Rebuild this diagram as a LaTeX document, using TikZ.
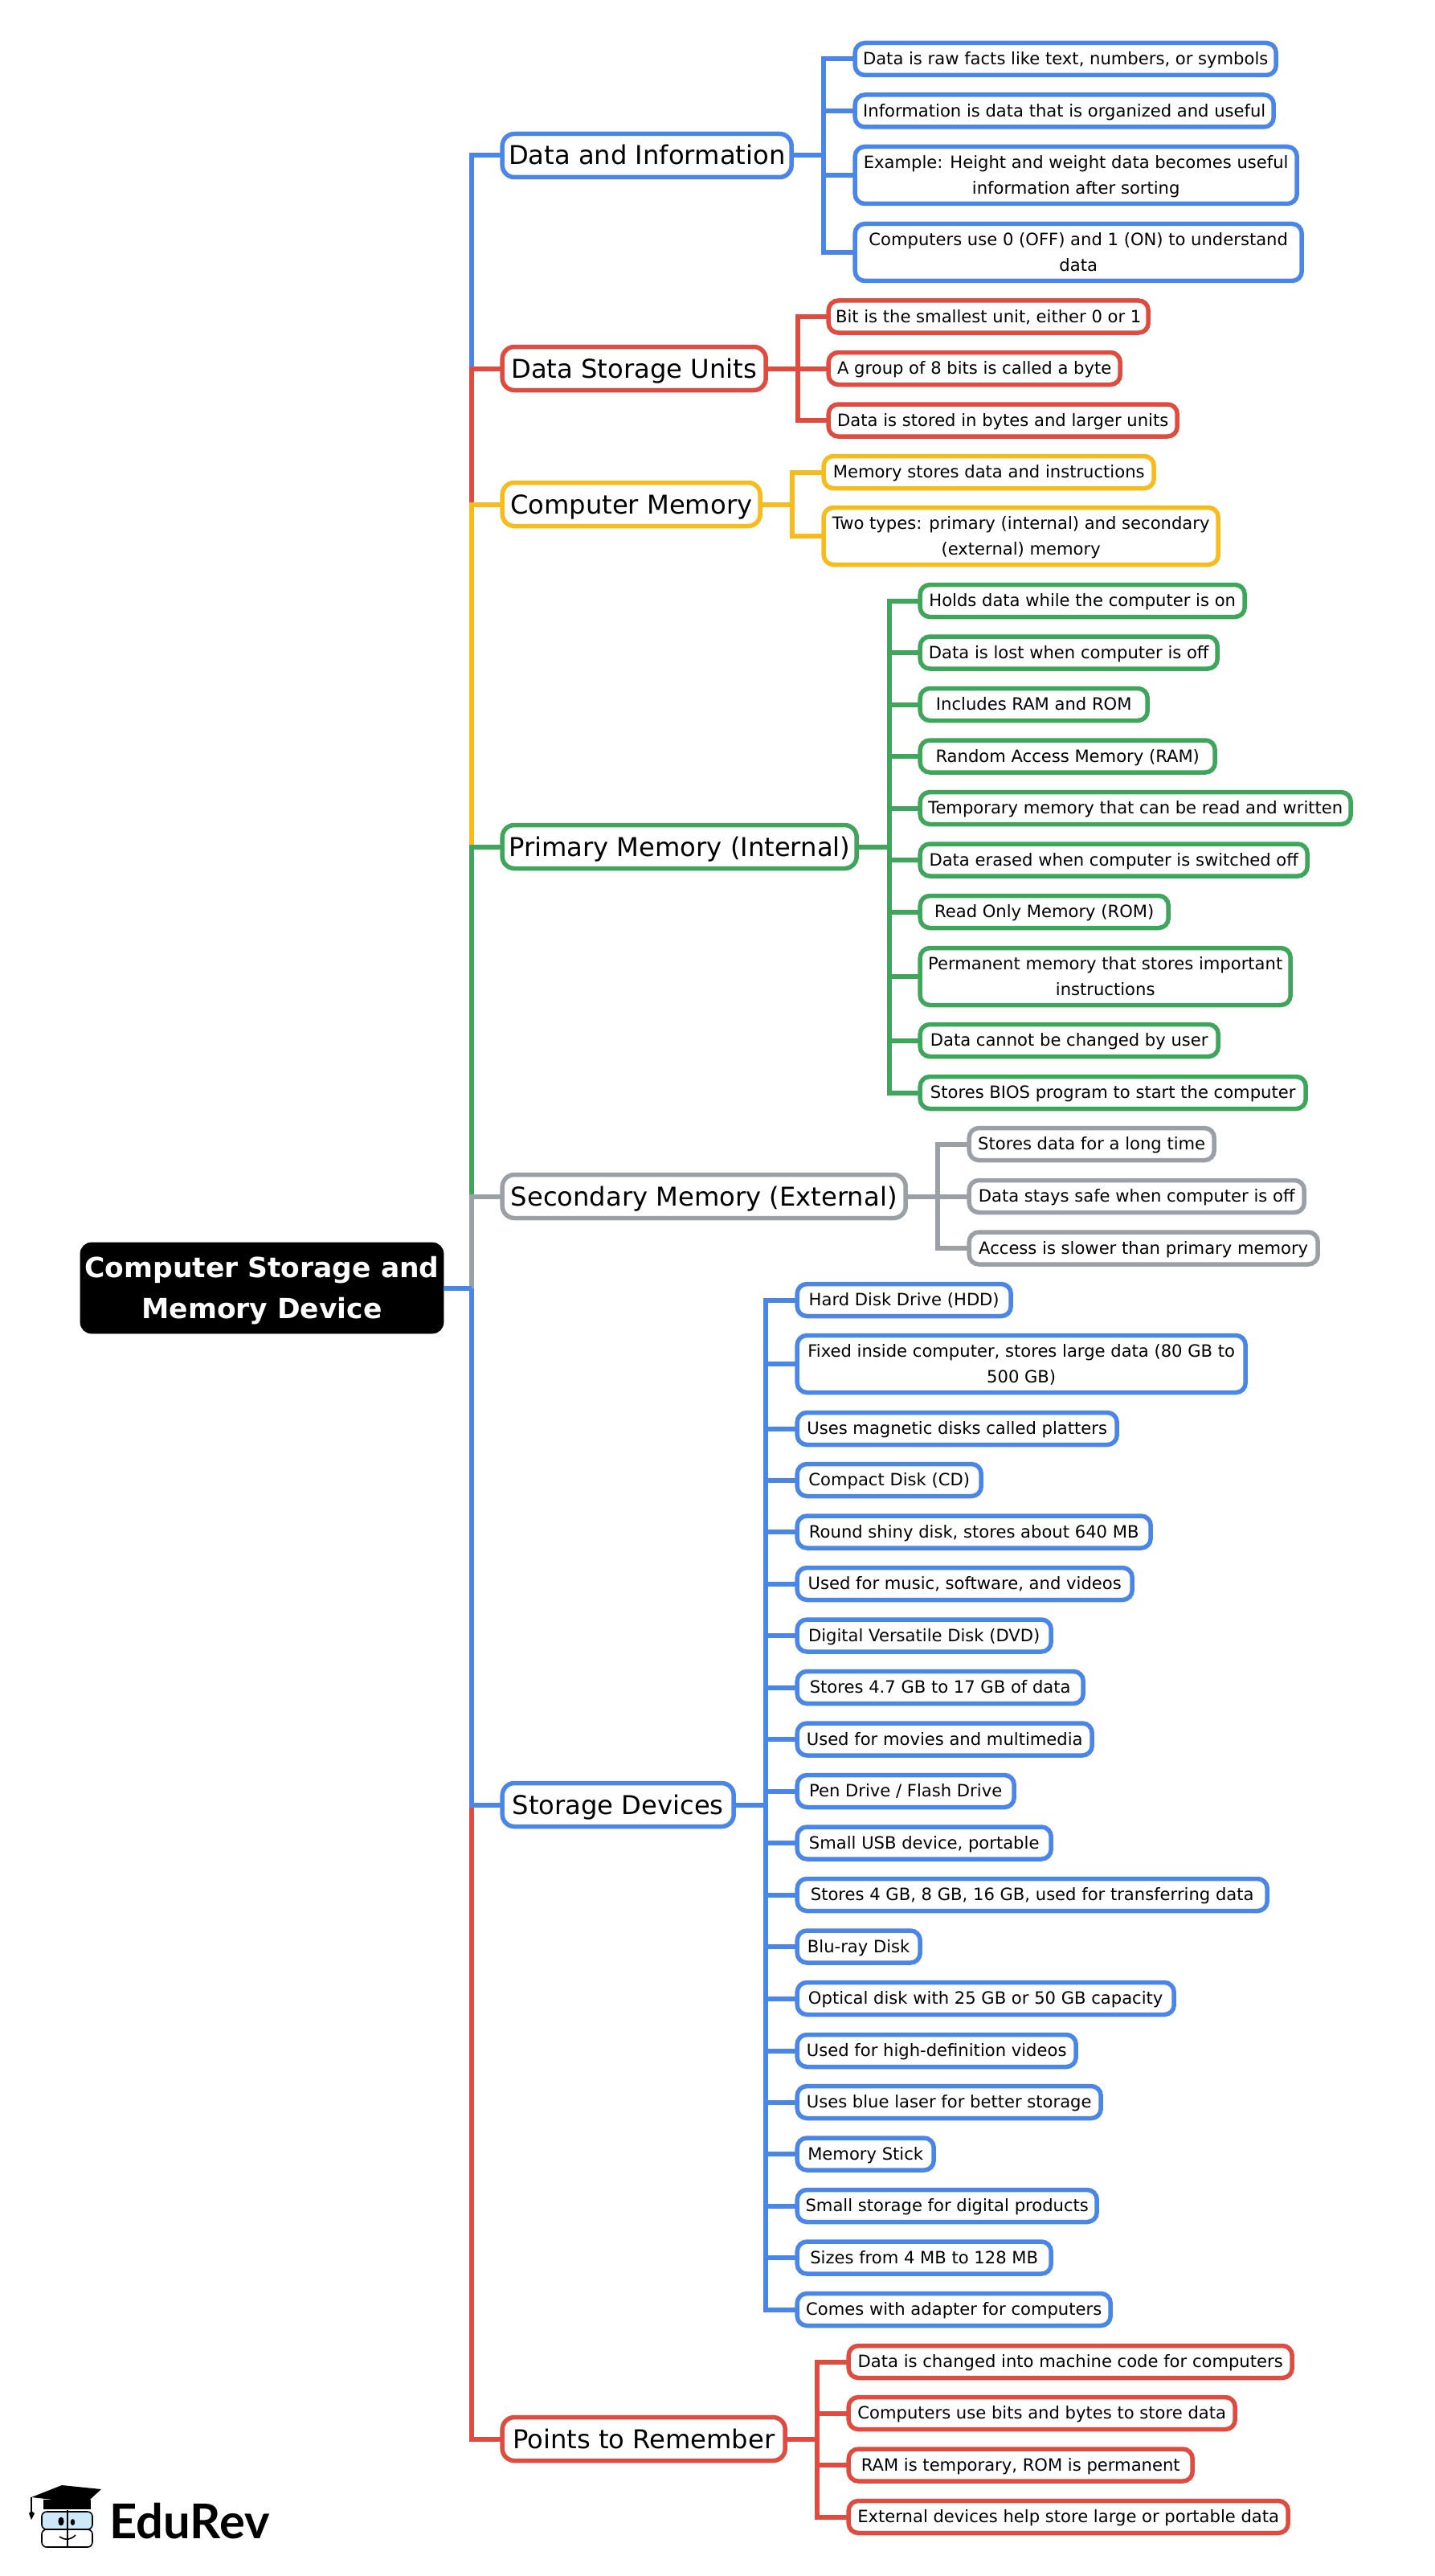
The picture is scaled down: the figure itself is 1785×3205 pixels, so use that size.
\documentclass[tikz,border=0pt]{standalone}
\usepackage{fontspec}
\setmainfont{DejaVu Sans}
\newfontfamily\logofont{Lato}
\usepackage{tikz}
\usetikzlibrary{positioning}
\definecolor{cblue}{HTML}{4A86E8}
\definecolor{cred}{HTML}{E04B3F}
\definecolor{cyellow}{HTML}{F7BC1C}
\definecolor{cgreen}{HTML}{3DA65B}
\definecolor{cgrey}{HTML}{9AA0A6}
\definecolor{cface}{HTML}{CDE8F8}
\newcommand\leafstrut{\rule[-4pt]{0pt}{15.2pt}}
\newcommand\tallstrut{\rule[-4pt]{0pt}{31.5pt}}
\newcommand\branchstrut{\rule[-4.5pt]{0pt}{20.5pt}}
\newcommand\rootstrut{\rule[-4.8pt]{0pt}{47.1pt}}
\tikzset{
  leaf/.style={draw,fill=white,line width=2.75pt,rounded corners=6pt,anchor=west,xshift=.6pt,
    outer sep=0pt,inner sep=0pt,align=center,text=black,
    execute at begin node=\leafstrut,execute at end node=\leafstrut,
    font=\fontsize{10.55}{16}\selectfont,minimum width=(#1-4)*.5pt,minimum height=20pt},
  bleaf/.style={leaf=#1,draw=cblue},
  rleaf/.style={leaf=#1,draw=cred},
  yleaf/.style={leaf=#1,draw=cyellow},
  gleaf/.style={leaf=#1,draw=cgreen},
  sleaf/.style={leaf=#1,draw=cgrey},
  twoline/.style={minimum height=35.5pt,execute at begin node=\tallstrut},
  branch/.style={leaf=#1,rounded corners=7.5pt,font=\fontsize{16.1}{20}\selectfont,minimum height=27pt,
    execute at begin node=\branchstrut,execute at end node=\branchstrut},
  link/.style={line width=3pt},
  elbow/.style={to path={|- (\tikztotarget)}}
}
\begin{document}
\begin{tikzpicture}[x=.5pt,y=-.5pt]
  \useasboundingbox (0,0) rectangle (1785,3205);
  \node[draw=black,fill=black,text=white,rounded corners=7pt,outer sep=0pt,inner sep=0pt,align=center,
    execute at begin node=\rootstrut,execute at end node=\leafstrut,
    font=\fontsize{17.25}{25.5}\selectfont\bfseries,minimum width=226pt,minimum height=56.5pt] (root) at (326,1602.5)
    {Computer Storage and\\Memory Device};
  \coordinate (trunk) at (587,1602.5);

  % data and information
  \node[branch=364,draw=cblue] (di) at (624,193.5) {Data and Information};
  \coordinate (dibar) at (1025,193.5);
  \node[bleaf=528] (di1) at (1063,73.5) {Data is raw facts like text, numbers, or symbols};
  \node[bleaf=525] (di2) at (1063,138) {Information is data that is organized and useful};
  \node[bleaf=554,twoline] (di3) at (1063,218) {Example: Height and weight data becomes useful\\information after sorting};
  \node[bleaf=560,twoline] (di4) at (1063,314) {Computers use 0 (OFF) and 1 (ON) to understand\\data};

  % storage units
  \node[branch=332,draw=cred] (du) at (624,458.5) {Data Storage Units};
  \coordinate (dubar) at (993,458.5);
  \node[rleaf=402] (du1) at (1030,394) {Bit is the smallest unit, either 0 or 1};
  \node[rleaf=367] (du2) at (1030,458.5) {A group of 8 bits is called a byte};
  \node[rleaf=438] (du3) at (1030,523) {Data is stored in bytes and larger units};

  % computer memory
  \node[branch=325,draw=cyellow] (cm) at (624,627.5) {Computer Memory};
  \coordinate (cmbar) at (986,627.5);
  \node[yleaf=415] (cm1) at (1024,587.5) {Memory stores data and instructions};
  \node[yleaf=495,twoline] (cm2) at (1024,667) {Two types: primary (internal) and secondary\\(external) memory};

  % primary memory
  \node[branch=445,draw=cgreen] (pm) at (624,1053.5) {Primary Memory (Internal)};
  \coordinate (pmbar) at (1107,1053.5);
  \node[gleaf=408] (pm1) at (1144,747.5) {Holds data while the computer is on};
  \node[gleaf=374] (pm2) at (1144,812) {Data is lost when computer is off};
  \node[gleaf=287] (pm3) at (1144,876.5) {Includes RAM and ROM};
  \node[gleaf=371] (pm4) at (1144,941) {Random Access Memory (RAM)};
  \node[gleaf=540] (pm5) at (1144,1005.5) {Temporary memory that can be read and written};
  \node[gleaf=486] (pm6) at (1144,1070) {Data erased when computer is switched off};
  \node[gleaf=313] (pm7) at (1144,1134.5) {Read Only Memory (ROM)};
  \node[gleaf=465,twoline] (pm8) at (1144,1215) {Permanent memory that stores important\\instructions};
  \node[gleaf=375] (pm9) at (1144,1294.5) {Data cannot be changed by user};
  \node[gleaf=484] (pm10) at (1144,1359.5) {Stores BIOS program to start the computer};

  % secondary memory
  \node[branch=506,draw=cgrey] (sm) at (624,1488.5) {Secondary Memory (External)};
  \coordinate (smbar) at (1167,1488.5);
  \node[sleaf=309] (sm1) at (1205,1423.5) {Stores data for a long time};
  \node[sleaf=421] (sm2) at (1205,1488.5) {Data stays safe when computer is off};
  \node[sleaf=438] (sm3) at (1205,1553) {Access is slower than primary memory};

  % storage devices
  \node[branch=292,draw=cblue] (sd) at (624,2245.5) {Storage Devices};
  \coordinate (sdbar) at (953,2245.5);
  \node[bleaf=270] (sd1) at (991,1617.5) {Hard Disk Drive (HDD)};
  \node[bleaf=562,twoline] (sd2) at (991,1697) {Fixed inside computer, stores large data (80 GB to\\500 GB)};
  \node[bleaf=402] (sd3) at (991,1777.5) {Uses magnetic disks called platters};
  \node[bleaf=233] (sd4) at (991,1841.5) {Compact Disk (CD)};
  \node[bleaf=444] (sd5) at (991,1906) {Round shiny disk, stores about 640 MB};
  \node[bleaf=421] (sd6) at (991,1970.5) {Used for music, software, and videos};
  \node[bleaf=320] (sd7) at (991,2035) {Digital Versatile Disk (DVD)};
  \node[bleaf=360] (sd8) at (991,2099.5) {Stores 4.7 GB to 17 GB of data};
  \node[bleaf=371] (sd9) at (991,2164) {Used for movies and multimedia};
  \node[bleaf=274] (sd10) at (991,2228.5) {Pen Drive / Flash Drive};
  \node[bleaf=320] (sd11) at (991,2293) {Small USB device, portable};
  \node[bleaf=589] (sd12) at (991,2357.5) {Stores 4 GB, 8 GB, 16 GB, used for transferring data};
  \node[bleaf=157] (sd13) at (991,2422) {Blu-ray Disk};
  \node[bleaf=473] (sd14) at (991,2486.5) {Optical disk with 25 GB or 50 GB capacity};
  \node[bleaf=351] (sd15) at (991,2551.5) {Used for high-definition videos};
  \node[bleaf=382] (sd16) at (991,2615.5) {Uses blue laser for better storage};
  \node[bleaf=174] (sd17) at (991,2680) {Memory Stick};
  \node[bleaf=377] (sd18) at (991,2744.5) {Small storage for digital products};
  \node[bleaf=320] (sd19) at (991,2809) {Sizes from 4 MB to 128 MB};
  \node[bleaf=394] (sd20) at (991,2873.5) {Comes with adapter for computers};

  % points to remember
  \node[branch=356,draw=cred] (pr) at (624,3034.5) {Points to Remember};
  \coordinate (prbar) at (1017,3034.5);
  \node[rleaf=556] (pr1) at (1055,2938.5) {Data is changed into machine code for computers};
  \node[rleaf=485] (pr2) at (1055,3002.5) {Computers use bits and bytes to store data};
  \node[rleaf=432] (pr3) at (1055,3067) {RAM is temporary, ROM is permanent};
  \node[rleaf=551] (pr4) at (1055,3131.5) {External devices help store large or portable data};

  % trunk, later paths lie over earlier ones
  \path[link,draw=cblue] (root) edge (trunk) (trunk) edge[elbow] (di);
  \path[link,draw=cred] (trunk) edge[elbow] (du);
  \path[link,draw=cyellow] (trunk) edge[elbow] (cm);
  \path[link,draw=cgreen] (trunk) edge[elbow] (pm);
  \path[link,draw=cgrey] (trunk) edge[elbow] (sm);
  \path[link,draw=cred] (trunk) edge[elbow] (pr);
  \path[link,draw=cblue] (root) edge (trunk) (trunk) edge[elbow] (sd);

  \path[link,draw=cblue] (di) edge (dibar)
    (dibar) edge[elbow] (di1) (dibar) edge[elbow] (di2)
    (dibar) edge[elbow] (di3) (dibar) edge[elbow] (di4);
  \path[link,draw=cred] (du) edge (dubar)
    (dubar) edge[elbow] (du1) (dubar) edge (du2) (dubar) edge[elbow] (du3);
  \path[link,draw=cyellow] (cm) edge (cmbar)
    (cmbar) edge[elbow] (cm1) (cmbar) edge[elbow] (cm2);
  \path[link,draw=cgreen] (pm) edge (pmbar)
    (pmbar) edge[elbow] (pm1) (pmbar) edge[elbow] (pm2)
    (pmbar) edge[elbow] (pm3) (pmbar) edge[elbow] (pm4)
    (pmbar) edge[elbow] (pm5) (pmbar) edge[elbow] (pm6)
    (pmbar) edge[elbow] (pm7) (pmbar) edge[elbow] (pm8)
    (pmbar) edge[elbow] (pm9) (pmbar) edge[elbow] (pm10);
  \path[link,draw=cgrey] (sm) edge (smbar)
    (smbar) edge[elbow] (sm1) (smbar) edge (sm2) (smbar) edge[elbow] (sm3);
  \path[link,draw=cblue] (sd) edge (sdbar)
    (sdbar) edge[elbow] (sd1) (sdbar) edge[elbow] (sd2)
    (sdbar) edge[elbow] (sd3) (sdbar) edge[elbow] (sd4)
    (sdbar) edge[elbow] (sd5) (sdbar) edge[elbow] (sd6)
    (sdbar) edge[elbow] (sd7) (sdbar) edge[elbow] (sd8)
    (sdbar) edge[elbow] (sd9) (sdbar) edge[elbow] (sd10)
    (sdbar) edge[elbow] (sd11) (sdbar) edge[elbow] (sd12)
    (sdbar) edge[elbow] (sd13) (sdbar) edge[elbow] (sd14)
    (sdbar) edge[elbow] (sd15) (sdbar) edge[elbow] (sd16)
    (sdbar) edge[elbow] (sd17) (sdbar) edge[elbow] (sd18)
    (sdbar) edge[elbow] (sd19) (sdbar) edge[elbow] (sd20);
  \path[link,draw=cred] (pr) edge (prbar)
    (prbar) edge[elbow] (pr1) (prbar) edge[elbow] (pr2)
    (prbar) edge[elbow] (pr3) (prbar) edge[elbow] (pr4);

  % logo
  \node[anchor=base west,inner sep=0pt,font=\fontsize{29.8}{30}\logofont\bfseries] (logotext) at (136,3158) {EduRev};
  \fill (54,3110) -- (54,3122) -- (113,3122) -- (113,3110) -- cycle;
  \draw[fill=cface,line width=.8pt,rounded corners=3pt] (52,3125) rectangle (115,3147);
  \draw[fill=white,line width=.8pt,rounded corners=3pt] (52,3147) rectangle (115,3169);
  \draw[line width=1pt] (84,3123) -- (84,3169);
  \fill (76,3137) ellipse (3.6 and 5.4);
  \fill (90.5,3138) ellipse (2.7 and 4);
  \draw[line width=.8pt] (74,3156) .. controls (82,3161) and (88,3160) .. (94,3154);
  \fill (39,3107) -- (77,3092) -- (126,3097) -- (103,3118) -- (84,3112) -- cycle;
  \draw[line width=.8pt] (39,3107) -- (39,3125);
  \fill (39,3124) -- (43,3127) -- (39,3135) -- (36,3127) -- cycle;
\end{tikzpicture}
\end{document}
